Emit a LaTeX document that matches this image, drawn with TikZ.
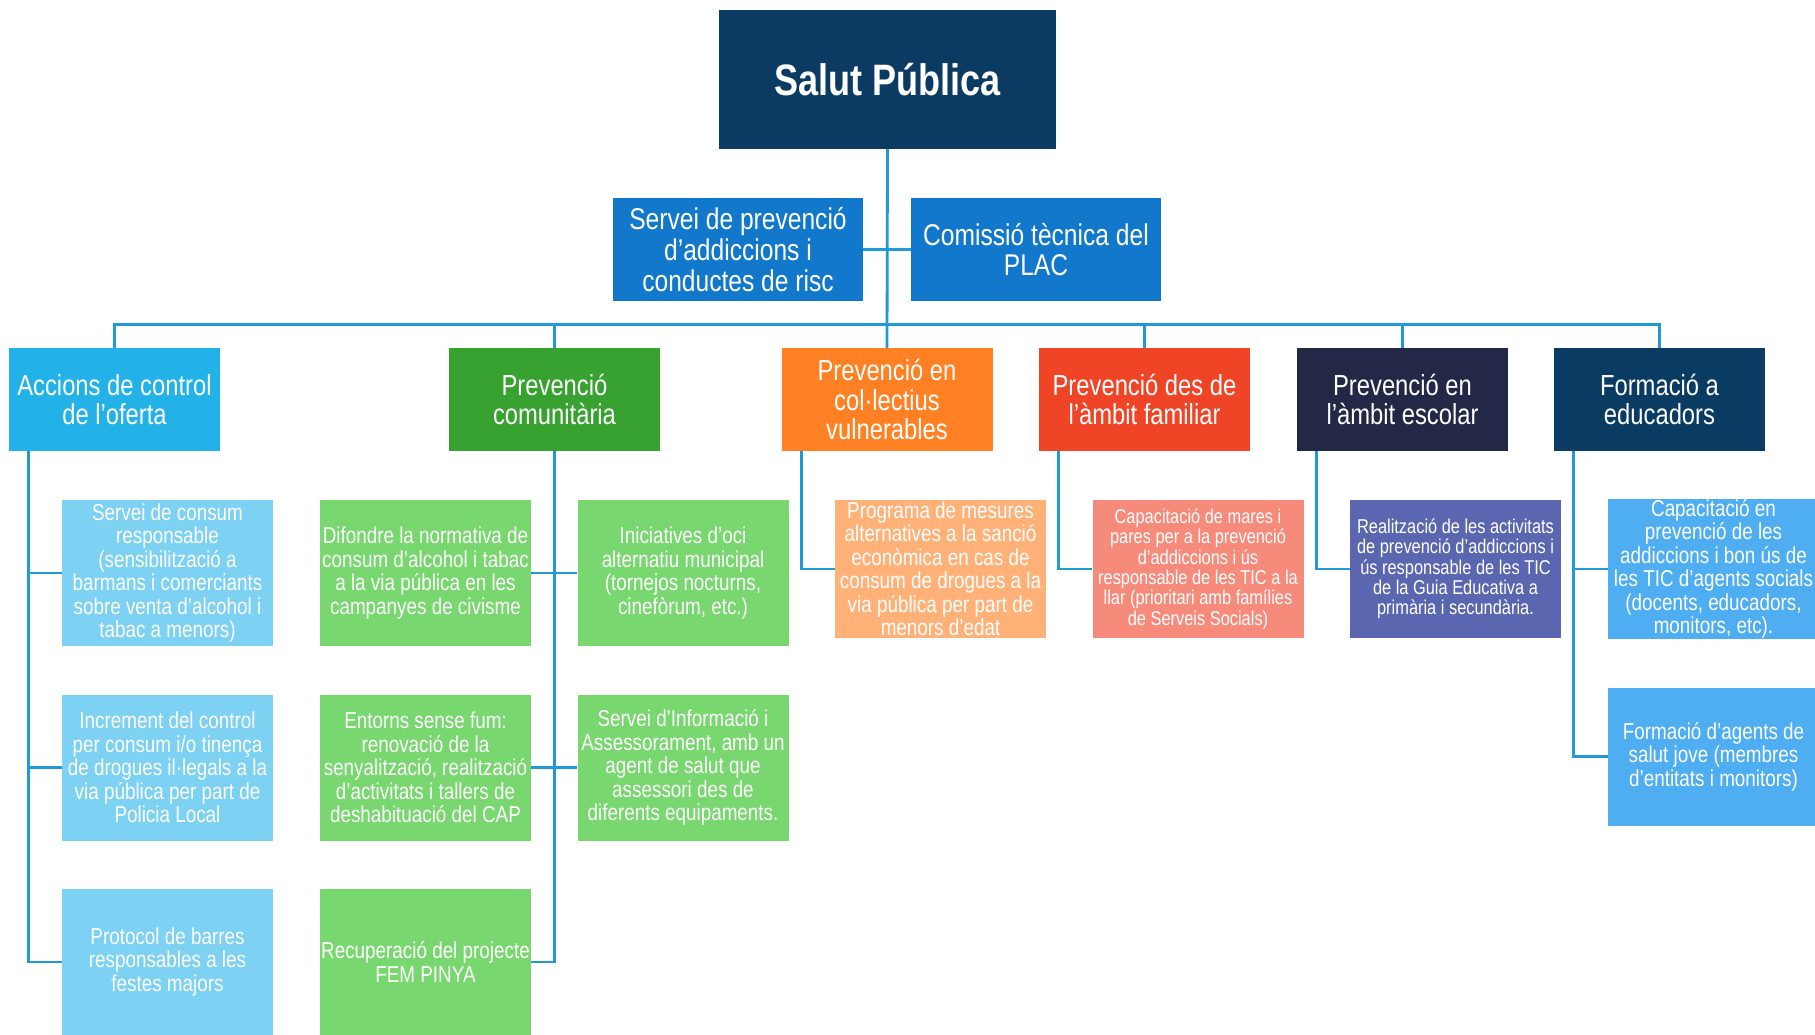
\documentclass[tikz,border=0pt]{standalone}
\usepackage{fontspec}
\setmainfont{Liberation Sans}[FakeStretch=0.82]
\definecolor{topnavy}{HTML}{0B3A62}
\definecolor{midblue}{HTML}{1278CB}
\definecolor{linkblue}{HTML}{1F9AD6}
\definecolor{accblue}{HTML}{22B2E8}
\definecolor{comgreen}{HTML}{37A22F}
\definecolor{colorange}{HTML}{FF8124}
\definecolor{famred}{HTML}{F04426}
\definecolor{escnavy}{HTML}{242847}
\definecolor{formnavy}{HTML}{0A3B62}
\definecolor{acclight}{HTML}{7DD1F3}
\definecolor{comlight}{HTML}{78D76F}
\definecolor{collight}{HTML}{FFB178}
\definecolor{famlight}{HTML}{F78B7B}
\definecolor{esclight}{HTML}{5B66B0}
\definecolor{formlight}{HTML}{4EAEF1}
\begin{document}
\begin{tikzpicture}[x=1pt, y=-1pt, box/.style={rectangle, inner sep=0pt, align=center, text=white}, head/.style={box, minimum width=211pt, minimum height=103pt, font=\fontsize{29}{29.5}\selectfont}, item/.style={box, minimum width=211pt, minimum height=146pt, font=\fontsize{23}{23.5}\selectfont}, short/.style={minimum height=138pt}, small/.style={font=\fontsize{20}{20.3}\selectfont}, link/.style={draw=linkblue, line width=2.8pt}]
		\clip (0,0) rectangle (1815,1034);
		\node[box, fill=topnavy, minimum width=337pt, minimum height=139pt, font=\fontsize{44}{44}\selectfont\bfseries] (top) at (887.5, 79.5) {Salut Pública};
		\node[box, fill=midblue, minimum width=250pt, minimum height=103pt, font=\fontsize{30}{30.7}\selectfont] (servei) at (738, 249.5) {Servei de prevenció\\d’addiccions i\\conductes de risc};
		\node[box, fill=midblue, minimum width=250pt, minimum height=103pt, font=\fontsize{30}{30.7}\selectfont] (comissio) at (1036, 249.5) {Comissió tècnica del\\PLAC};
		\node[head, fill=accblue] (acc) at (114.5, 399.5) {Accions de control\\de l’oferta};
		\node[head, fill=comgreen] (com) at (554.5, 399.5) {Prevenció\\comunitària};
		\node[head, fill=colorange] (col) at (887, 399.5) {Prevenció en\\col·lectius\\vulnerables};
		\node[head, fill=famred] (fam) at (1144.5, 399.5) {Prevenció des de\\l’àmbit familiar};
		\node[head, fill=escnavy] (esc) at (1402.5, 399.5) {Prevenció en\\l’àmbit escolar};
		\node[head, fill=formnavy] (form) at (1659.5, 399.5) {Formació a\\educadors};
		\node[item, fill=acclight] (a1) at (167.5, 573) {Servei de consum\\responsable\\(sensibilització a\\barmans i comerciants\\sobre venta d’alcohol i\\tabac a menors)};
		\node[item, fill=acclight] (a2) at (167.5, 767.5) {Increment del control\\per consum i/o tinença\\de drogues il·legals a la\\via pública per part de\\Policia Local};
		\node[item, fill=acclight] (a3) at (167.5, 962) {Protocol de barres\\responsables a les\\festes majors};
		\node[item, fill=comlight] (c1) at (425.5, 573) {Difondre la normativa de\\consum d’alcohol i tabac\\a la via pública en les\\campanyes de civisme};
		\node[item, fill=comlight] (c2) at (683, 573) {Iniciatives d’oci\\alternatiu municipal\\(tornejos nocturns,\\cinefòrum, etc.)};
		\node[item, fill=comlight] (c3) at (425.5, 767.5) {Entorns sense fum:\\renovació de la\\senyalització, realització\\d’activitats i tallers de\\deshabituació del CAP};
		\node[item, fill=comlight] (c4) at (683, 767.5) {Servei d’Informació i\\Assessorament, amb un\\agent de salut que\\assessori des de\\diferents equipaments.};
		\node[item, fill=comlight] (c5) at (425.5, 962) {Recuperació del projecte\\FEM PINYA};
		\node[item, short, fill=collight] (v1) at (940.5, 569) {Programa de mesures\\alternatives a la sanció\\econòmica en cas de\\consum de drogues a la\\via pública per part de\\menors d’edat};
		\node[item, short, small, fill=famlight] (f1) at (1198, 569) {Capacitació de mares i\\pares per a la prevenció\\d’addiccions i ús\\responsable de les TIC a la\\llar (prioritari amb famílies\\de Serveis Socials)};
		\node[item, short, small, fill=esclight] (e1) at (1455.5, 569) {Realització de les activitats\\de prevenció d’addiccions i\\ús responsable de les TIC\\de la Guia Educativa a\\primària i secundària.};
		\node[item, short, fill=formlight] (p1) at (1713.5, 569) {Capacitació en\\prevenció de les\\addiccions i bon ús de\\les TIC d’agents socials\\(docents, educadors,\\monitors, etc).};
		\node[item, short, fill=formlight] (p2) at (1713.5, 756.5) {Formació d’agents de\\salut jove (membres\\d’entitats i monitors)};
		\draw[link] (top.south) -- (col.north);
		\draw[link] (servei.east) -- (comissio.west);
		\draw[link] (acc.north) -- ++(0, -23) -| (form.north);
		\foreach \n in {com, fam, esc}
			\draw[link] (\n.north) -- ++(0, -23);
		\foreach \c in {a1, a2, a3}
			\draw[link] ([xshift=20pt]acc.south west) |- (\c.west);
		\draw[link] (com.south) |- (c5.east);
		\draw[link] (c1.east) -- (c2.west);
		\draw[link] (c3.east) -- (c4.west);
		\draw[link] ([xshift=20pt]col.south west) |- (v1.west);
		\draw[link] ([xshift=20pt]fam.south west) |- (f1.west);
		\draw[link] ([xshift=20pt]esc.south west) |- (e1.west);
		\foreach \c in {p1, p2}
			\draw[link] ([xshift=20pt]form.south west) |- (\c.west);
	\end{tikzpicture}
\end{document}
